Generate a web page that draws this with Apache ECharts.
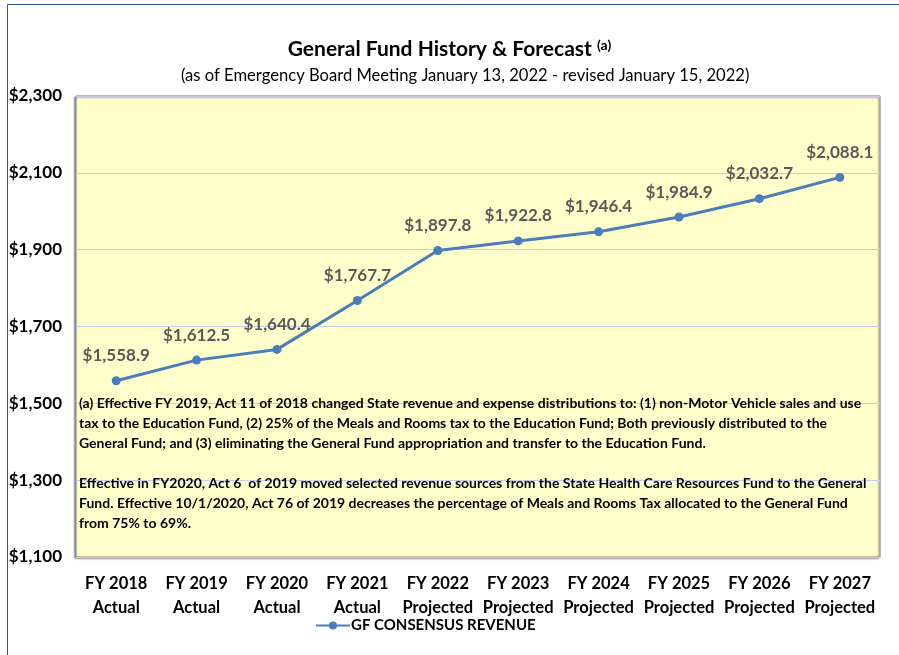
<!DOCTYPE html>
<html>
<head>
<meta charset="utf-8">
<script src="https://cdn.jsdelivr.net/npm/echarts@6/dist/echarts.min.js"></script>
<style>
  html, body { margin: 0; padding: 0; background: #fff; }
  #main { width: 899px; height: 655px; }
</style>
</head>
<body>
<div id="main"></div>
<script>
// fiscal years and their status
const years = ["FY 2018", "FY 2019", "FY 2020", "FY 2021", "FY 2022", "FY 2023", "FY 2024", "FY 2025", "FY 2026", "FY 2027"];
const status = ["Actual", "Actual", "Actual", "Actual", "Projected", "Projected", "Projected", "Projected", "Projected", "Projected"];
// general fund consensus revenue, $ millions
const revenue = [1558.9, 1612.5, 1640.4, 1767.7, 1897.8, 1922.8, 1946.4, 1984.9, 2032.7, 2088.1];
const seriesName = "GF CONSENSUS REVENUE";

const noteA = [
  "(a) Effective FY 2019, Act 11 of 2018 changed State revenue and expense distributions to: (1) non-Motor Vehicle sales and use",
  "tax to the Education Fund, (2) 25% of the Meals and Rooms tax to the Education Fund; Both previously distributed to the",
  "General Fund; and (3) eliminating the General Fund appropriation and transfer to the Education Fund.",
];
const noteB = [
  "Effective in FY2020, Act 6  of 2019 moved selected revenue sources from the State Health Care Resources Fund to the General",
  "Fund. Effective 10/1/2020, Act 76 of 2019 decreases the percentage of Meals and Rooms Tax allocated to the General Fund",
  "from 75% to 69%.",
];

const font = "Lato, 'Open Sans', sans-serif";
const fmt = v => "$" + v.toLocaleString("en-US", { minimumFractionDigits: 1, maximumFractionDigits: 1 });

const chart = echarts.init(document.getElementById("main"));
chart.setOption({
  animation: false,
  textStyle: { fontFamily: font },
  title: [
    {
      text: "General Fund History & Forecast {sup|(a)}",
      left: "center",
      top: 33,
      textStyle: {
        fontSize: 21, fontWeight: "bold", color: "#000", fontFamily: font,
        rich: { sup: { fontSize: 14, fontWeight: "bold", color: "#000", verticalAlign: "top", padding: [0, 0, 8, 0], fontFamily: font } },
      },
    },
    {
      text: "(as of Emergency Board Meeting January 13, 2022 - revised January 15, 2022)",
      left: 176,
      top: 62,
      textStyle: { fontSize: 16.6, fontWeight: "normal", color: "#000", fontFamily: font },
    },
  ],
  grid: {
    left: 76, right: 19, top: 96, bottom: 98,
    show: true,
    backgroundColor: "#FFFFCC",
    borderColor: "#8c8c8c",
    borderWidth: 1,
    shadowColor: "rgba(0,0,0,0.55)",
    shadowBlur: 2,
    shadowOffsetX: -1,
    shadowOffsetY: 1,
  },
  legend: {
    data: [seriesName],
    left: 310,
    top: 613,
    itemWidth: 34,
    itemHeight: 10,
    itemGap: 4,
    textStyle: { fontSize: 15, fontWeight: "bold", color: "#000", fontFamily: font, padding: [0, 0, 0, -4] },
  },
  xAxis: {
    type: "category",
    data: years.map((y, i) => y + "\n" + status[i]),
    boundaryGap: true,
    axisLine: { show: false },
    axisTick: { show: false },
    axisLabel: { margin: 15, fontSize: 16.5, fontWeight: "bold", color: "#000", lineHeight: 24, interval: 0, fontFamily: font },
  },
  yAxis: {
    type: "value",
    min: 1100,
    max: 2300,
    interval: 200,
    axisLine: { show: false },
    axisTick: { show: false },
    splitLine: { lineStyle: { color: "#c8cbe6", width: 1 } },
    axisLabel: {
      fontSize: 17, fontWeight: "bold", color: "#000", margin: 14, fontFamily: font,
      formatter: v => "$" + v.toLocaleString("en-US"),
    },
  },
  series: [{
    name: seriesName,
    type: "line",
    data: revenue,
    symbol: "circle",
    symbolSize: 9,
    lineStyle: { color: "#4a7ebb", width: 3 },
    itemStyle: { color: "#4a7ebb" },
    label: {
      show: true,
      position: "top",
      distance: 12,
      fontSize: 17,
      fontWeight: "bold",
      color: "#595959",
      fontFamily: font,
      formatter: p => fmt(p.value),
    },
  }],
  graphic: [
    {
      type: "rect",
      shape: { x: 7.5, y: 4.5, width: 1000, height: 1000 },
      style: { fill: "none", stroke: "#2f5597", lineWidth: 1 },
      silent: true,
    },
    {
      type: "text",
      left: 79, top: 393,
      style: { text: noteA.join("\n"), fontSize: 14, fontWeight: "bold", fill: "#000", lineHeight: 20, fontFamily: font },
      z: 10,
    },
    {
      type: "text",
      left: 79, top: 473,
      style: { text: noteB.join("\n"), fontSize: 14, fontWeight: "bold", fill: "#000", lineHeight: 20, fontFamily: font },
      z: 10,
    },
  ],
});
</script>
</body>
</html>
